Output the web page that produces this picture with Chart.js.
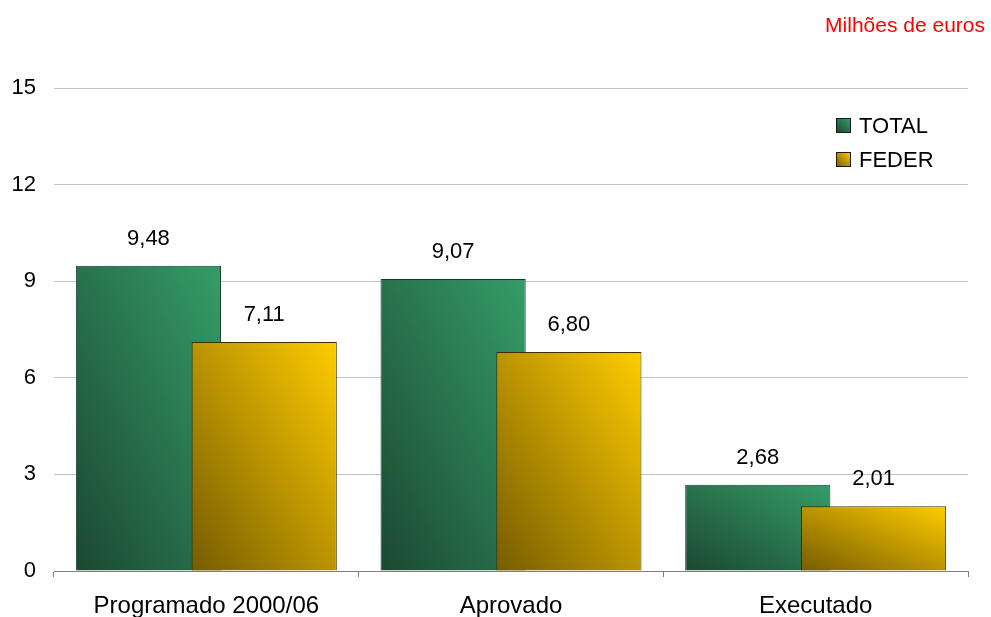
<!DOCTYPE html>
<html>
<head>
<meta charset="utf-8">
<script src="https://cdn.jsdelivr.net/npm/chart.js@4.4.1/dist/chart.umd.min.js"></script>
<style>
  html, body { margin: 0; padding: 0; background: #fff; }
  #wrap { width: 991px; height: 617px; position: relative; }
</style>
</head>
<body>
<div id="wrap"><canvas id="fundos"></canvas></div>
<script>
const categorias = ["Programado 2000/06", "Aprovado", "Executado"];
const valoresTotal = [9.48, 9.07, 2.68];
const valoresFeder = [7.11, 6.80, 2.01];
const ticksY = [0, 3, 6, 9, 12, 15];
const unidade = "Milhões de euros";

const FONT = "'Liberation Sans', Arial, sans-serif";
const SHIFT = 0.19;      // bars of one group overlap, like in the original
const BAR_SHARE = 0.953; // catPct * barPct

const cores = {
    TOTAL: { dark: "rgb(27,72,48)", light: "rgb(53,156,105)", border: "#163d29" },
    FEDER: { dark: "rgb(118,92,0)", light: "rgb(255,204,0)", border: "#3b3000" }
};

// office style diagonal: isolines run parallel to the top-left/bottom-right diagonal
function gradiente(ctx, c, left, top, right, bottom) {
    const w = right - left, h = bottom - top;
    const t = 2 * w * h / (w * w + h * h);
    const g = ctx.createLinearGradient(left, bottom, left + t * h, bottom - t * w);
    g.addColorStop(0, c.dark);
    g.addColorStop(1, c.light);
    return g;
}

function preenchimento(nome, dir) {
    return (context) => {
        const chart = context.chart;
        if (!chart.chartArea || context.type !== "data") return cores[nome].light;
        const xs = chart.scales.x, ys = chart.scales.y;
        const w = xs.width / categorias.length;
        const cx = xs.getPixelForValue(context.dataIndex) + dir * SHIFT * w;
        const half = w * BAR_SHARE / 4;
        return gradiente(chart.ctx, cores[nome], cx - half, ys.getPixelForValue(context.raw),
                         cx + half, ys.getPixelForValue(0));
    };
}

const sobreposicao = {
    id: "sobreposicao",
    afterDatasetsUpdate(chart) {
        const xs = chart.scales.x;
        const w = xs.width / categorias.length;
        chart.data.datasets.forEach((ds, di) => {
            const dir = ds.label === "TOTAL" ? -1 : 1;
            chart.getDatasetMeta(di).data.forEach((bar, i) => {
                bar.x = xs.getPixelForValue(i) + dir * SHIFT * w;
            });
        });
    },
    afterDatasetsDraw(chart) {
        const ctx = chart.ctx;
        ctx.save();
        ctx.font = "22px " + FONT;
        ctx.fillStyle = "#000";
        ctx.textAlign = "center";
        ctx.textBaseline = "middle";
        chart.data.datasets.forEach((ds, di) => {
            chart.getDatasetMeta(di).data.forEach((bar, i) => {
                ctx.fillText(ds.data[i].toFixed(2).replace(".", ","), bar.x, bar.y - 27);
            });
        });
        ctx.restore();
    },
    afterDraw(chart) {
        const ctx = chart.ctx;
        ctx.save();
        // legend, top right inside the plot
        chart.data.datasets.forEach((ds, di) => {
            const c = cores[ds.label];
            const bx = 836, by = 118 + di * 34;
            ctx.fillStyle = gradiente(ctx, c, bx, by, bx + 14, by + 14);
            ctx.fillRect(bx, by, 14, 14);
            ctx.strokeStyle = "#1a1a1a";
            ctx.lineWidth = 1;
            ctx.strokeRect(bx + 0.5, by + 0.5, 14, 14);
            ctx.fillStyle = "#000";
            ctx.font = "22px " + FONT;
            ctx.textAlign = "left";
            ctx.textBaseline = "alphabetic";
            ctx.fillText(ds.label, 859, by + 15);
        });
        // unit
        ctx.fillStyle = "#ff0000";
        ctx.font = "21px " + FONT;
        ctx.textAlign = "right";
        ctx.textBaseline = "alphabetic";
        ctx.fillText(unidade, 985, 32);
        ctx.restore();
    }
};

new Chart("fundos", {
    type: "bar",
    data: {
        labels: categorias,
        datasets: [
            {
                label: "TOTAL",
                data: valoresTotal,
                order: 1,
                backgroundColor: preenchimento("TOTAL", -1),
                borderColor: cores.TOTAL.border,
                borderWidth: 1
            },
            {
                label: "FEDER",
                data: valoresFeder,
                order: 0,
                backgroundColor: preenchimento("FEDER", 1),
                borderColor: cores.FEDER.border,
                borderWidth: 1
            }
        ]
    },
    options: {
        responsive: true,
        maintainAspectRatio: false,
        animation: false,
        events: [],
        categoryPercentage: BAR_SHARE,
        barPercentage: 1,
        layout: { padding: { top: 88, left: 12, right: 23, bottom: 0 } },
        plugins: {
            legend: { display: false },
            tooltip: { enabled: false }
        },
        scales: {
            x: {
                afterFit: (s) => { s.height = 46; },
                grid: { offset: true, drawOnChartArea: false, drawTicks: true, tickLength: 6, color: "#808080" },
                border: { color: "#808080" },
                ticks: { color: "#000", padding: 17, font: { family: FONT, size: 24, lineHeight: 1 } }
            },
            y: {
                min: 0,
                max: 15,
                afterBuildTicks: (s) => { s.ticks = ticksY.map(v => ({ value: v })); },
                afterFit: (s) => { s.width = 42; },
                grid: { color: "#c4c4c4", drawTicks: false },
                border: { display: false },
                ticks: { color: "#000", padding: 18, font: { family: FONT, size: 22 } }
            }
        }
    },
    plugins: [sobreposicao]
});
</script>
</body>
</html>
